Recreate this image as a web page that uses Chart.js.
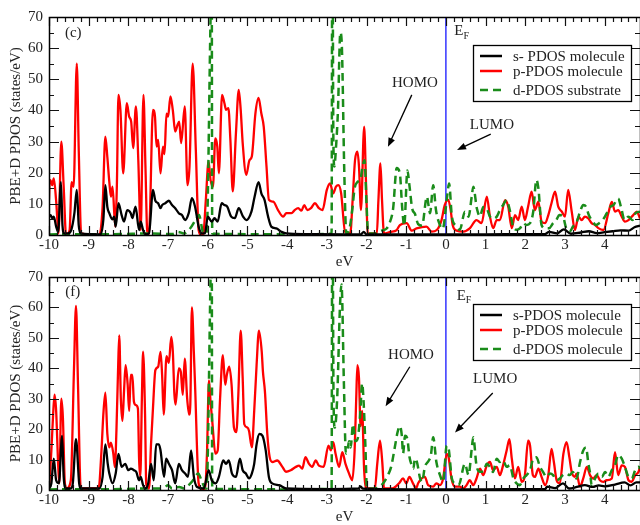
<!DOCTYPE html>
<html><head><meta charset="utf-8">
<script src="https://cdn.jsdelivr.net/npm/chart.js@4.4.0/dist/chart.umd.min.js"></script>
<style>
html,body{margin:0;padding:0;background:#fff;width:640px;height:525px;overflow:hidden;}
#c1{position:absolute;left:0;top:0;}
#c2{position:absolute;left:0;top:262px;}
</style></head><body>
<canvas id="c1" width="640" height="271"></canvas>
<canvas id="c2" width="640" height="264"></canvas>
<script>
// ---------- data ----------
const xTickValues = [-10,-9,-8,-7,-6,-5,-4,-3,-2,-1,0,1,2,3,4];
const yTickValues = [0,10,20,30,40,50,60,70];
const xRange = [-10, 4.89];
const yRange = [0, 70];
const fermiLevel = 0;
const xTitle = 'eV';
const yTitle = 'PBE+D PDOS (states/eV)';
const topLabels = ['s- PDOS molecule','p-PDOS molecule','d-PDOS substrate'];
const botLabels = ['s-PDOS molecule','p-PDOS molecule','d-PDOS molecule'];

// panel (c): [eV, states/eV]
const sTop = [[-10,5.9],[-9.96,6.4],[-9.92,5.4],[-9.88,5.9],[-9.82,2.7],[-9.77,1],[-9.70,17],[-9.66,3],[-9.62,0.5],[-9.53,0.5],[-9.44,1.6],[-9.36,7],[-9.30,14.5],[-9.25,3],[-9.20,0.5],[-8.70,0.2],[-8.63,5],[-8.58,16],[-8.53,9],[-8.48,7],[-8.40,5],[-8.36,5.9],[-8.32,2.7],[-8.25,10.2],[-8.17,6.4],[-8.11,4.3],[-8.03,8],[-7.94,7],[-7.90,5.4],[-7.82,9.1],[-7.73,1.6],[-7.69,4.3],[-7.63,1.6],[-7.57,0.2],[-7.48,0.5],[-7.38,14.5],[-7.32,11],[-7.25,10.2],[-7.19,8.6],[-7.15,9.6],[-7.07,10.2],[-6.98,11],[-6.90,9.6],[-6.82,8.6],[-6.73,7],[-6.65,6.4],[-6.57,4.8],[-6.48,7],[-6.40,11.8],[-6.32,9.1],[-6.23,2.7],[-6.15,0.5],[-6.07,0.5],[-6.00,5.9],[-5.90,4.3],[-5.83,5.4],[-5.75,4.3],[-5.65,10.2],[-5.58,9.6],[-5.51,9.1],[-5.41,5.9],[-5.32,5.4],[-5.22,8.6],[-5.11,5.9],[-5.03,4.8],[-4.90,7.5],[-4.82,12.3],[-4.72,17],[-4.65,13.4],[-4.57,11.3],[-4.48,5.9],[-4.40,2.7],[-4.27,2.1],[-4.14,1],[-4.02,0.5],[-3.5,0.3],[-2.5,0.2],[-2.15,0.2],[-2.07,1],[-2.0,0.2],[-1,0.2],[0,0.2],[1,0.2],[2,0.3],[2.5,0.3],[2.6,1],[2.8,0.5],[2.97,1.8],[3.15,0.4],[3.4,0.8],[3.6,1.2],[3.8,0.6],[4.0,0.9],[4.2,1.2],[4.4,1.5],[4.6,1.4],[4.75,2.5],[4.89,3]];
const pTop = [[-10,11.3],[-9.98,17.7],[-9.94,17],[-9.92,16],[-9.88,18.2],[-9.82,11],[-9.76,0.5],[-9.69,30],[-9.63,15.5],[-9.57,0],[-9.48,1.6],[-9.43,17],[-9.38,15.5],[-9.30,55],[-9.25,27],[-9.19,0.5],[-8.73,0],[-8.65,9],[-8.58,31.6],[-8.53,25],[-8.48,17],[-8.44,12.3],[-8.40,15.5],[-8.33,2.7],[-8.29,16],[-8.25,45],[-8.20,40],[-8.13,19.8],[-8.04,42.3],[-7.98,38],[-7.93,36.4],[-7.88,27.9],[-7.81,41.3],[-7.75,24],[-7.69,1.6],[-7.62,45],[-7.57,22],[-7.52,0],[-7.47,2.7],[-7.38,40.2],[-7.33,38],[-7.29,28.4],[-7.25,30.5],[-7.19,19.8],[-7.13,28.4],[-7.09,26],[-7.04,39],[-7.00,38],[-6.94,44.5],[-6.88,40],[-6.82,33.2],[-6.76,35.4],[-6.72,36.4],[-6.67,29.5],[-6.58,41.3],[-6.51,16],[-6.46,22],[-6.38,55],[-6.30,27],[-6.23,1.6],[-6.17,0],[-6.11,0.5],[-6.05,11],[-5.98,23.6],[-5.93,17.7],[-5.87,15.5],[-5.81,31],[-5.76,28.4],[-5.72,19.8],[-5.64,45],[-5.58,42.3],[-5.54,40.2],[-5.48,40.7],[-5.43,30.5],[-5.37,14],[-5.29,32.7],[-5.22,46.6],[-5.17,40.2],[-5.12,29.5],[-5.03,19.3],[-4.95,24],[-4.89,25.2],[-4.80,39],[-4.72,44],[-4.65,39],[-4.59,34.8],[-4.52,22],[-4.46,11.3],[-4.35,10.7],[-4.23,8],[-4.10,5.9],[-4.02,7],[-3.89,7],[-3.81,8],[-3.72,8.6],[-3.64,7.8],[-3.57,9.6],[-3.49,8],[-3.40,8.6],[-3.30,10.2],[-3.20,8.6],[-3.11,8],[-3.00,14.5],[-2.92,16.6],[-2.84,13.4],[-2.77,15.5],[-2.71,16],[-2.64,13.4],[-2.54,1],[-2.41,0.5],[-2.35,11.3],[-2.29,24],[-2.23,26.8],[-2.19,22],[-2.14,8],[-2.06,34.8],[-2.01,15.5],[-1.97,0.5],[-1.74,0.5],[-1.70,11.3],[-1.65,23],[-1.61,11.3],[-1.56,0.5],[-1.40,1],[-1.24,1.6],[-1.16,3.2],[-0.99,3.8],[-0.86,1.4],[-0.74,2.1],[-0.49,2.7],[-0.36,1.1],[-0.23,1.6],[-0.11,4.8],[-0.03,9.6],[0.06,11.3],[0.12,8],[0.17,3.2],[0.27,1.4],[0.44,1.1],[0.60,2.1],[0.77,4.8],[0.90,3.8],[1.03,12.3],[1.11,5.9],[1.19,2.2],[1.28,4.8],[1.36,4.8],[1.49,11.2],[1.57,9.1],[1.66,2.2],[1.74,6.4],[1.82,4.8],[1.91,9.1],[1.99,4.8],[2.07,9.1],[2.16,13.9],[2.24,8],[2.33,10.7],[2.41,4.3],[2.50,3.8],[2.58,6.4],[2.66,10.2],[2.75,13.9],[2.83,9.1],[2.92,7.5],[3.00,5.9],[3.08,14.5],[3.17,7.5],[3.25,1.6],[3.34,5.9],[3.42,4.8],[3.50,5.9],[3.59,5.3],[3.67,3.8],[3.76,3.2],[3.84,2.2],[3.97,1.6],[4.09,6.9],[4.18,10.6],[4.26,7.5],[4.34,8],[4.43,5.9],[4.51,4.3],[4.60,4.8],[4.72,6.4],[4.81,7.5],[4.89,5.3]];
const dTop = [[-10,0.2],[-8.2,0.3],[-7.5,0.5],[-6.9,0.3],[-6.75,1],[-6.6,0.5],[-6.45,2],[-6.3,5],[-6.22,6.4],[-6.12,1],[-6.03,0.5],[-5.9,80],[-5.888,0.5],[-5.5,0.3],[-4,0.2],[-3.0,0.3],[-2.88,0.5],[-2.862,110],[-2.835,30],[-2.81,22],[-2.77,28],[-2.72,40],[-2.66,65],[-2.62,60],[-2.56,20],[-2.51,0.5],[-2.43,2],[-2.36,8],[-2.3,15],[-2.23,17],[-2.15,18],[-2.1,22],[-2.05,24],[-2.0,10],[-1.96,0.5],[-1.8,0.5],[-1.6,1.5],[-1.5,2],[-1.42,3.8],[-1.33,8.5],[-1.24,21.5],[-1.16,19.7],[-1.1,8.5],[-1.05,3],[-0.97,20.7],[-0.92,16],[-0.85,8.5],[-0.78,6.8],[-0.7,3.5],[-0.6,3],[-0.48,12.3],[-0.4,7],[-0.32,16],[-0.25,8],[-0.16,3.5],[-0.08,2],[0.03,12.3],[0.08,16.5],[0.15,6],[0.25,3],[0.35,1.7],[0.48,7.5],[0.57,5.9],[0.65,12.3],[0.69,15.5],[0.78,8.5],[0.86,6],[0.94,9],[1.03,8.5],[1.11,5.9],[1.2,5.3],[1.28,5.9],[1.36,8],[1.44,9.6],[1.53,11.2],[1.6,8.5],[1.7,2.5],[1.78,1.7],[1.87,2.2],[1.95,3.8],[2.03,3.2],[2.12,3.8],[2.2,7.5],[2.28,17.7],[2.33,15],[2.41,3.2],[2.5,2.2],[2.6,2.2],[2.7,3.8],[2.78,4.8],[2.86,6.4],[2.95,5.9],[3.03,2.2],[3.12,1.1],[3.2,2.7],[3.3,4.3],[3.38,7.5],[3.46,9.6],[3.53,9.1],[3.6,6.4],[3.7,4.3],[3.78,3.2],[3.86,3.8],[3.95,4.8],[4.05,6.9],[4.15,9.1],[4.22,9.6],[4.34,11.7],[4.42,8.5],[4.5,4.8],[4.6,5.9],[4.7,4.8],[4.78,7],[4.89,7.5]];

// panel (f)
const sBot = [[-10,0.5],[-9.94,2.2],[-9.88,10.3],[-9.82,3.2],[-9.75,2.2],[-9.67,17.8],[-9.63,4.3],[-9.57,0.5],[-9.45,0.5],[-9.4,2.2],[-9.32,16.7],[-9.24,2.2],[-9.2,0.5],[-8.73,0.5],[-8.65,4.3],[-8.58,15],[-8.52,8.6],[-8.48,5.4],[-8.4,2.2],[-8.32,5.4],[-8.25,11.9],[-8.17,7.6],[-8.08,8.6],[-8.0,6.5],[-7.94,7],[-7.86,6.5],[-7.8,5.9],[-7.73,3.2],[-7.69,4.3],[-7.63,1.6],[-7.57,0.5],[-7.5,2.2],[-7.43,8.6],[-7.36,3.2],[-7.3,15],[-7.23,15],[-7.19,13],[-7.1,4.3],[-7.05,10.3],[-6.98,8.6],[-6.9,6.5],[-6.82,2.2],[-6.73,8.6],[-6.65,6.5],[-6.57,5.4],[-6.5,4.3],[-6.42,13],[-6.35,4.3],[-6.27,1],[-6.1,0.5],[-5.98,6.5],[-5.9,3.2],[-5.8,2.2],[-5.72,4.3],[-5.61,9.7],[-5.54,8.6],[-5.47,9.7],[-5.39,5.4],[-5.29,4.3],[-5.19,10.3],[-5.12,6.5],[-5.04,5.4],[-4.96,3.8],[-4.89,5.4],[-4.83,8.6],[-4.77,15],[-4.7,18.4],[-4.62,17.8],[-4.54,13],[-4.46,4.3],[-4.38,2.2],[-4.2,1.6],[-4.03,0.5],[-3,0.3],[-2.2,0.5],[-2.15,1.2],[-2.1,0.5],[-1,0.2],[0,0.2],[1,0.2],[2,0.3],[2.5,0.3],[2.55,1.1],[2.75,0.6],[2.95,2.2],[3.1,0.5],[3.3,1],[3.5,1.6],[3.7,1],[3.85,1.5],[4.0,1.2],[4.26,1.8],[4.5,2.5],[4.65,1.5],[4.8,2.5],[4.89,2.5]];
const pBot = [[-10,0],[-9.94,13],[-9.9,23.8],[-9.86,31.3],[-9.82,26],[-9.77,8.6],[-9.74,2.2],[-9.69,30],[-9.65,23.8],[-9.6,2.2],[-9.55,0.5],[-9.45,3.2],[-9.37,40],[-9.32,60.5],[-9.27,35],[-9.2,0.5],[-8.75,0.5],[-8.68,12.4],[-8.63,25],[-8.58,32],[-8.53,18.4],[-8.48,14],[-8.44,15.6],[-8.38,12],[-8.34,7.5],[-8.3,20],[-8.26,39.5],[-8.23,50.8],[-8.19,30],[-8.15,22.7],[-8.11,32.4],[-8.07,41],[-8.02,35],[-7.98,26],[-7.94,37.8],[-7.9,37.8],[-7.86,29],[-7.81,27.9],[-7.76,26.8],[-7.73,10],[-7.7,4.3],[-7.66,30],[-7.63,45.5],[-7.58,25],[-7.55,2],[-7.48,0.5],[-7.43,15],[-7.38,27],[-7.32,39.4],[-7.25,40.5],[-7.19,45.4],[-7.15,37.8],[-7.11,24.8],[-7.04,44],[-6.98,41.8],[-6.92,50.3],[-6.88,45.4],[-6.84,31.3],[-6.81,28.1],[-6.73,40],[-6.68,38.9],[-6.63,31.3],[-6.58,43.2],[-6.52,30.2],[-6.47,24.8],[-6.44,28.1],[-6.4,60],[-6.35,45],[-6.32,34.5],[-6.23,2.2],[-6.15,0.3],[-6.07,0.3],[-6.02,12],[-5.97,36],[-5.93,29],[-5.88,21.6],[-5.81,12],[-5.75,13],[-5.69,30],[-5.62,44.3],[-5.56,34.6],[-5.52,37.8],[-5.46,40.5],[-5.4,34.6],[-5.34,20.5],[-5.28,19],[-5.23,31.3],[-5.17,52.4],[-5.12,36.7],[-5.08,21.6],[-5.0,20.5],[-4.96,19.4],[-4.89,14],[-4.83,25.9],[-4.77,41],[-4.71,52.4],[-4.64,45.4],[-4.61,38.9],[-4.56,32.4],[-4.5,18.4],[-4.44,10.8],[-4.37,9.2],[-4.25,9.7],[-4.12,7.6],[-4.03,6],[-3.91,6.5],[-3.78,7.6],[-3.7,8],[-3.62,7],[-3.54,10.8],[-3.45,8.6],[-3.37,7.6],[-3.28,9.7],[-3.2,8],[-3.08,7.6],[-2.96,14.6],[-2.9,13],[-2.84,15.7],[-2.78,11.9],[-2.69,7.6],[-2.61,12.4],[-2.53,8.6],[-2.44,5.4],[-2.36,3.2],[-2.3,13],[-2.26,30],[-2.23,41],[-2.19,36.7],[-2.15,21],[-2.11,26],[-2.06,6.5],[-2.0,0.5],[-1.79,0.5],[-1.73,8.6],[-1.66,16.2],[-1.6,8.6],[-1.56,0.5],[-1.35,0.5],[-1.18,2.2],[-1.08,3.8],[-1.0,2.2],[-0.92,4.3],[-0.83,2.2],[-0.75,0.5],[-0.7,2.2],[-0.53,4.3],[-0.45,1.6],[-0.32,1.1],[-0.24,2.2],[-0.15,1.6],[-0.07,3.8],[0.02,11.9],[0.06,11.3],[0.14,3.8],[0.23,1.1],[0.35,1.1],[0.44,0.5],[0.52,1.6],[0.6,3.2],[0.69,1.6],[0.77,3.8],[0.86,7],[0.94,4.9],[1.03,8.1],[1.11,9.2],[1.19,6.5],[1.28,7.6],[1.36,4.9],[1.44,8.1],[1.53,13],[1.6,16.7],[1.66,10.3],[1.74,3.8],[1.82,7.6],[1.91,2.7],[1.99,4.9],[2.07,16.2],[2.12,14.6],[2.19,4.9],[2.24,4.3],[2.33,7],[2.41,4.3],[2.5,1.6],[2.58,4.9],[2.66,13.5],[2.72,9.2],[2.79,3.2],[2.87,2.2],[2.96,11.9],[3.04,15.7],[3.11,10.8],[3.17,5.9],[3.25,4.3],[3.29,5.4],[3.38,1.1],[3.46,3.8],[3.55,7.6],[3.63,4.9],[3.71,3.8],[3.8,4.9],[3.88,3.2],[3.97,2.7],[4.05,3.2],[4.18,3.8],[4.26,12.4],[4.34,4.9],[4.43,8.1],[4.51,7.6],[4.6,3.2],[4.68,2.7],[4.77,4.9],[4.85,5.9],[4.89,7.6]];
const dBot = [[-10,0.2],[-8.2,0.3],[-7.6,0.5],[-7.2,0.5],[-7.08,1],[-7.0,1.6],[-6.9,0.5],[-6.72,1],[-6.6,0.5],[-6.48,1.6],[-6.4,2.7],[-6.32,4.3],[-6.24,5.4],[-6.16,3.2],[-6.08,0.8],[-6.03,0.5],[-5.9,80],[-5.888,0.5],[-5.5,0.3],[-4,0.2],[-3.0,0.3],[-2.88,0.5],[-2.862,110],[-2.83,28],[-2.8,20.5],[-2.74,30],[-2.67,60],[-2.63,67.5],[-2.57,35],[-2.52,12],[-2.48,13],[-2.44,16],[-2.4,14],[-2.34,21.6],[-2.28,16],[-2.22,17],[-2.16,25],[-2.11,35],[-2.07,28],[-2.03,15],[-1.99,0.5],[-1.8,0.5],[-1.62,1.6],[-1.46,4.9],[-1.38,7.6],[-1.28,14.6],[-1.22,18.9],[-1.16,21],[-1.11,17.8],[-1.08,12],[-1.03,17.8],[-0.97,16.7],[-0.92,11],[-0.86,8.1],[-0.82,7],[-0.78,10.3],[-0.73,9.2],[-0.65,3.8],[-0.6,2.7],[-0.53,7.6],[-0.43,9.7],[-0.38,11.3],[-0.32,17.3],[-0.24,9.2],[-0.15,4.9],[-0.07,2.7],[0.02,14.6],[0.07,13.5],[0.15,3.8],[0.23,2.2],[0.32,1.6],[0.48,8.6],[0.57,4.9],[0.65,13.5],[0.69,17.3],[0.77,8.1],[0.86,6],[0.94,6],[1.03,8.6],[1.11,7.6],[1.19,5.9],[1.28,10.3],[1.36,9.2],[1.44,9.7],[1.53,7.6],[1.61,8.1],[1.7,3.8],[1.78,2.2],[1.86,1.6],[1.95,3.8],[2.03,4.9],[2.12,6.5],[2.2,10.3],[2.28,10.8],[2.37,7.6],[2.45,5.9],[2.53,4.3],[2.62,5.4],[2.7,4.9],[2.78,3.2],[2.87,3.8],[2.95,4.9],[3.03,5.4],[3.12,4.9],[3.2,5.9],[3.29,3.8],[3.38,9.2],[3.46,13],[3.53,14],[3.59,8.6],[3.64,4.9],[3.67,1.6],[3.76,3.8],[3.84,5.4],[3.93,4.3],[4.01,5.9],[4.09,4.3],[4.18,6.5],[4.26,8.1],[4.34,11.5],[4.43,10.3],[4.51,7.6],[4.6,4.3],[4.68,3.8],[4.77,6.5],[4.85,7.6],[4.89,7]];

// annotation placement (data coordinates)
const topNotes = {panel:'(c)', panelAt:[-9.39,64.9], efAt:[0.21,65.5], homoAt:[-0.78,48.8], homoArrow:[[-0.86,45],[-1.46,28.3]], lumoAt:[1.16,35.3], lumoArrow:[[1.13,32.4],[0.28,27.3]], legendTop:28};
const botNotes = {panel:'(f)', panelAt:[-9.40,65.1], efAt:[0.27,63.8], homoAt:[-0.88,44.4], homoArrow:[[-0.91,40.5],[-1.52,27.5]], lumoAt:[1.24,36.3], lumoArrow:[[1.18,31.9],[0.23,18.9]], legendTop:27};

// ---------- style ----------
const FAMILY = '"Liberation Serif","Times New Roman",serif';
const TXT = '#222';
const COLORS = {s:'#000000', p:'#ff0000', d:'#1a8c1a', ef:'#0000ff'};

function framePlugin(){
  return {id:'frame', afterDatasetsDraw(chart){
    const {ctx, chartArea:a, scales:{x,y}} = chart;
    ctx.save();
    ctx.strokeStyle = '#111'; ctx.lineWidth = 1.2;
    ctx.beginPath();
    const nx = Math.round((xRange[1]-xRange[0])/0.2);
    for(let i=0;i<=nx;i++){
      const v = xRange[0]+i*0.2;
      if (v > xRange[1]+1e-6) break;
      const major = Math.abs(v-Math.round(v))<1e-6;
      const len = major?9:5;
      const px = Math.round(x.getPixelForValue(v))+0.5;
      ctx.moveTo(px,a.bottom); ctx.lineTo(px,a.bottom-len);
      ctx.moveTo(px,a.top); ctx.lineTo(px,a.top+len);
    }
    for(let v=yRange[0]; v<=yRange[1]; v+=5){
      const major = v%10===0;
      const len = major?10:5;
      const py = Math.round(y.getPixelForValue(v))+0.5;
      ctx.moveTo(a.left,py); ctx.lineTo(a.left+len,py);
      ctx.moveTo(a.right,py); ctx.lineTo(a.right-len,py);
    }
    ctx.stroke();
    ctx.lineWidth = 1.5; ctx.strokeStyle='#000';
    ctx.strokeRect(a.left+0.5, a.top+0.5, a.right-a.left, a.bottom-a.top);
    ctx.restore();
  }};
}

function notesPlugin(notes){
  return {id:'notes', afterDraw(chart){
    const {ctx, chartArea:a, scales:{x,y}} = chart;
    const P = (p)=>[x.getPixelForValue(p[0]), y.getPixelForValue(p[1])];
    ctx.save();
    ctx.fillStyle = TXT; ctx.textBaseline='middle';
    ctx.font = '15px '+FAMILY;
    let q = P(notes.panelAt); ctx.textAlign='center'; ctx.fillText(notes.panel, q[0], q[1]);
    q = P(notes.efAt); ctx.textAlign='left'; ctx.fillText('E', q[0], q[1]);
    const w = ctx.measureText('E').width;
    ctx.font = '10px '+FAMILY; ctx.fillText('F', q[0]+w, q[1]+5);
    ctx.font = '15px '+FAMILY;
    ctx.textAlign='center';
    q = P(notes.homoAt); ctx.fillText('HOMO', q[0], q[1]);
    q = P(notes.lumoAt); ctx.fillText('LUMO', q[0], q[1]);
    const arrow = (pts)=>{
      const [x1,y1] = P(pts[0]), [x2,y2] = P(pts[1]);
      const ang = Math.atan2(y2-y1, x2-x1), L=9, W=3.5;
      ctx.strokeStyle='#000'; ctx.lineWidth=1.3;
      ctx.beginPath(); ctx.moveTo(x1,y1); ctx.lineTo(x2-Math.cos(ang)*L*0.8, y2-Math.sin(ang)*L*0.8); ctx.stroke();
      ctx.fillStyle='#000'; ctx.beginPath();
      ctx.moveTo(x2,y2);
      ctx.lineTo(x2-Math.cos(ang)*L+Math.sin(ang)*W, y2-Math.sin(ang)*L-Math.cos(ang)*W);
      ctx.lineTo(x2-Math.cos(ang)*L-Math.sin(ang)*W, y2-Math.sin(ang)*L+Math.cos(ang)*W);
      ctx.closePath(); ctx.fill();
    };
    arrow(notes.homoArrow); arrow(notes.lumoArrow);
    const ds = chart.data.datasets.filter(d=>d.inLegend);
    const bx = a.right-167, by = a.top+notes.legendTop, bw = 158, bh = 56;
    ctx.fillStyle='#fff'; ctx.fillRect(bx,by,bw,bh);
    ctx.strokeStyle='#000'; ctx.lineWidth=1.3; ctx.strokeRect(bx+0.5,by+0.5,bw,bh);
    const rows=[11,26,45];
    ds.forEach((d,i)=>{
      const yy = by+rows[i];
      ctx.strokeStyle=d.borderColor; ctx.lineWidth=2.5;
      ctx.setLineDash(d.borderDash||[]);
      ctx.beginPath(); ctx.moveTo(bx+7,yy); ctx.lineTo(bx+29,yy); ctx.stroke();
      ctx.setLineDash([]);
      ctx.fillStyle=TXT; ctx.textAlign='left'; ctx.font='15px '+FAMILY;
      ctx.fillText(d.label, bx+40, yy+1);
    });
    ctx.restore();
  }};
}

function makeChart(id, s, p, d, labels, notes, padTop){
  const pts = arr => arr.map(([vx,vy])=>({x:vx,y:vy}));
  const font = {family:FAMILY, size:15};
  return new Chart(document.getElementById(id), {
    type:'line',
    data:{datasets:[
      {label:labels[0], data:pts(s), borderColor:COLORS.s, borderWidth:2.3, order:1, inLegend:true},
      {label:labels[1], data:pts(p), borderColor:COLORS.p, borderWidth:2.3, order:3, inLegend:true},
      {label:labels[2], data:pts(d), borderColor:COLORS.d, borderWidth:2.5, borderDash:[8,5], order:2, inLegend:true},
      {label:'EF', data:[{x:fermiLevel,y:yRange[0]},{x:fermiLevel,y:yRange[1]}], borderColor:COLORS.ef, borderWidth:1.2, order:4, cubicInterpolationMode:'default', tension:0}
    ]},
    options:{
      responsive:false, animation:false, devicePixelRatio:1,
      layout:{padding:{top:padTop,left:0,right:0,bottom:0}},
      elements:{point:{radius:0}, line:{fill:false, cubicInterpolationMode:'monotone', borderCapStyle:'butt', borderJoinStyle:'round'}},
      plugins:{legend:{display:false}, tooltip:{enabled:false}},
      scales:{
        x:{type:'linear', min:xRange[0], max:xRange[1],
           afterBuildTicks: sc => { sc.ticks = xTickValues.map(v=>({value:v})); },
           afterFit: sc => { sc.height = 36; },
           grid:{display:false, drawTicks:false}, border:{display:false},
           ticks:{font, color:TXT, padding:1.5, maxRotation:0, autoSkip:false, callback:v=>String(v)},
           title:{display:true, text:xTitle, font, color:TXT, padding:{top:0,bottom:0}}},
        y:{type:'linear', min:yRange[0], max:yRange[1],
           afterBuildTicks: sc => { sc.ticks = yTickValues.map(v=>({value:v})); },
           afterFit: sc => { sc.width = 49; },
           grid:{display:false, drawTicks:false}, border:{display:false},
           ticks:{font, color:TXT, padding:6, callback:v=>String(v)},
           title:{display:true, text:yTitle, font, color:TXT, padding:{top:7,bottom:0}}}
      }
    },
    plugins:[framePlugin(), notesPlugin(notes)]
  });
}

makeChart('c1', sTop, pTop, dTop, topLabels, topNotes, 17);
makeChart('c2', sBot, pBot, dBot, botLabels, botNotes, 12);
</script>
</body></html>
